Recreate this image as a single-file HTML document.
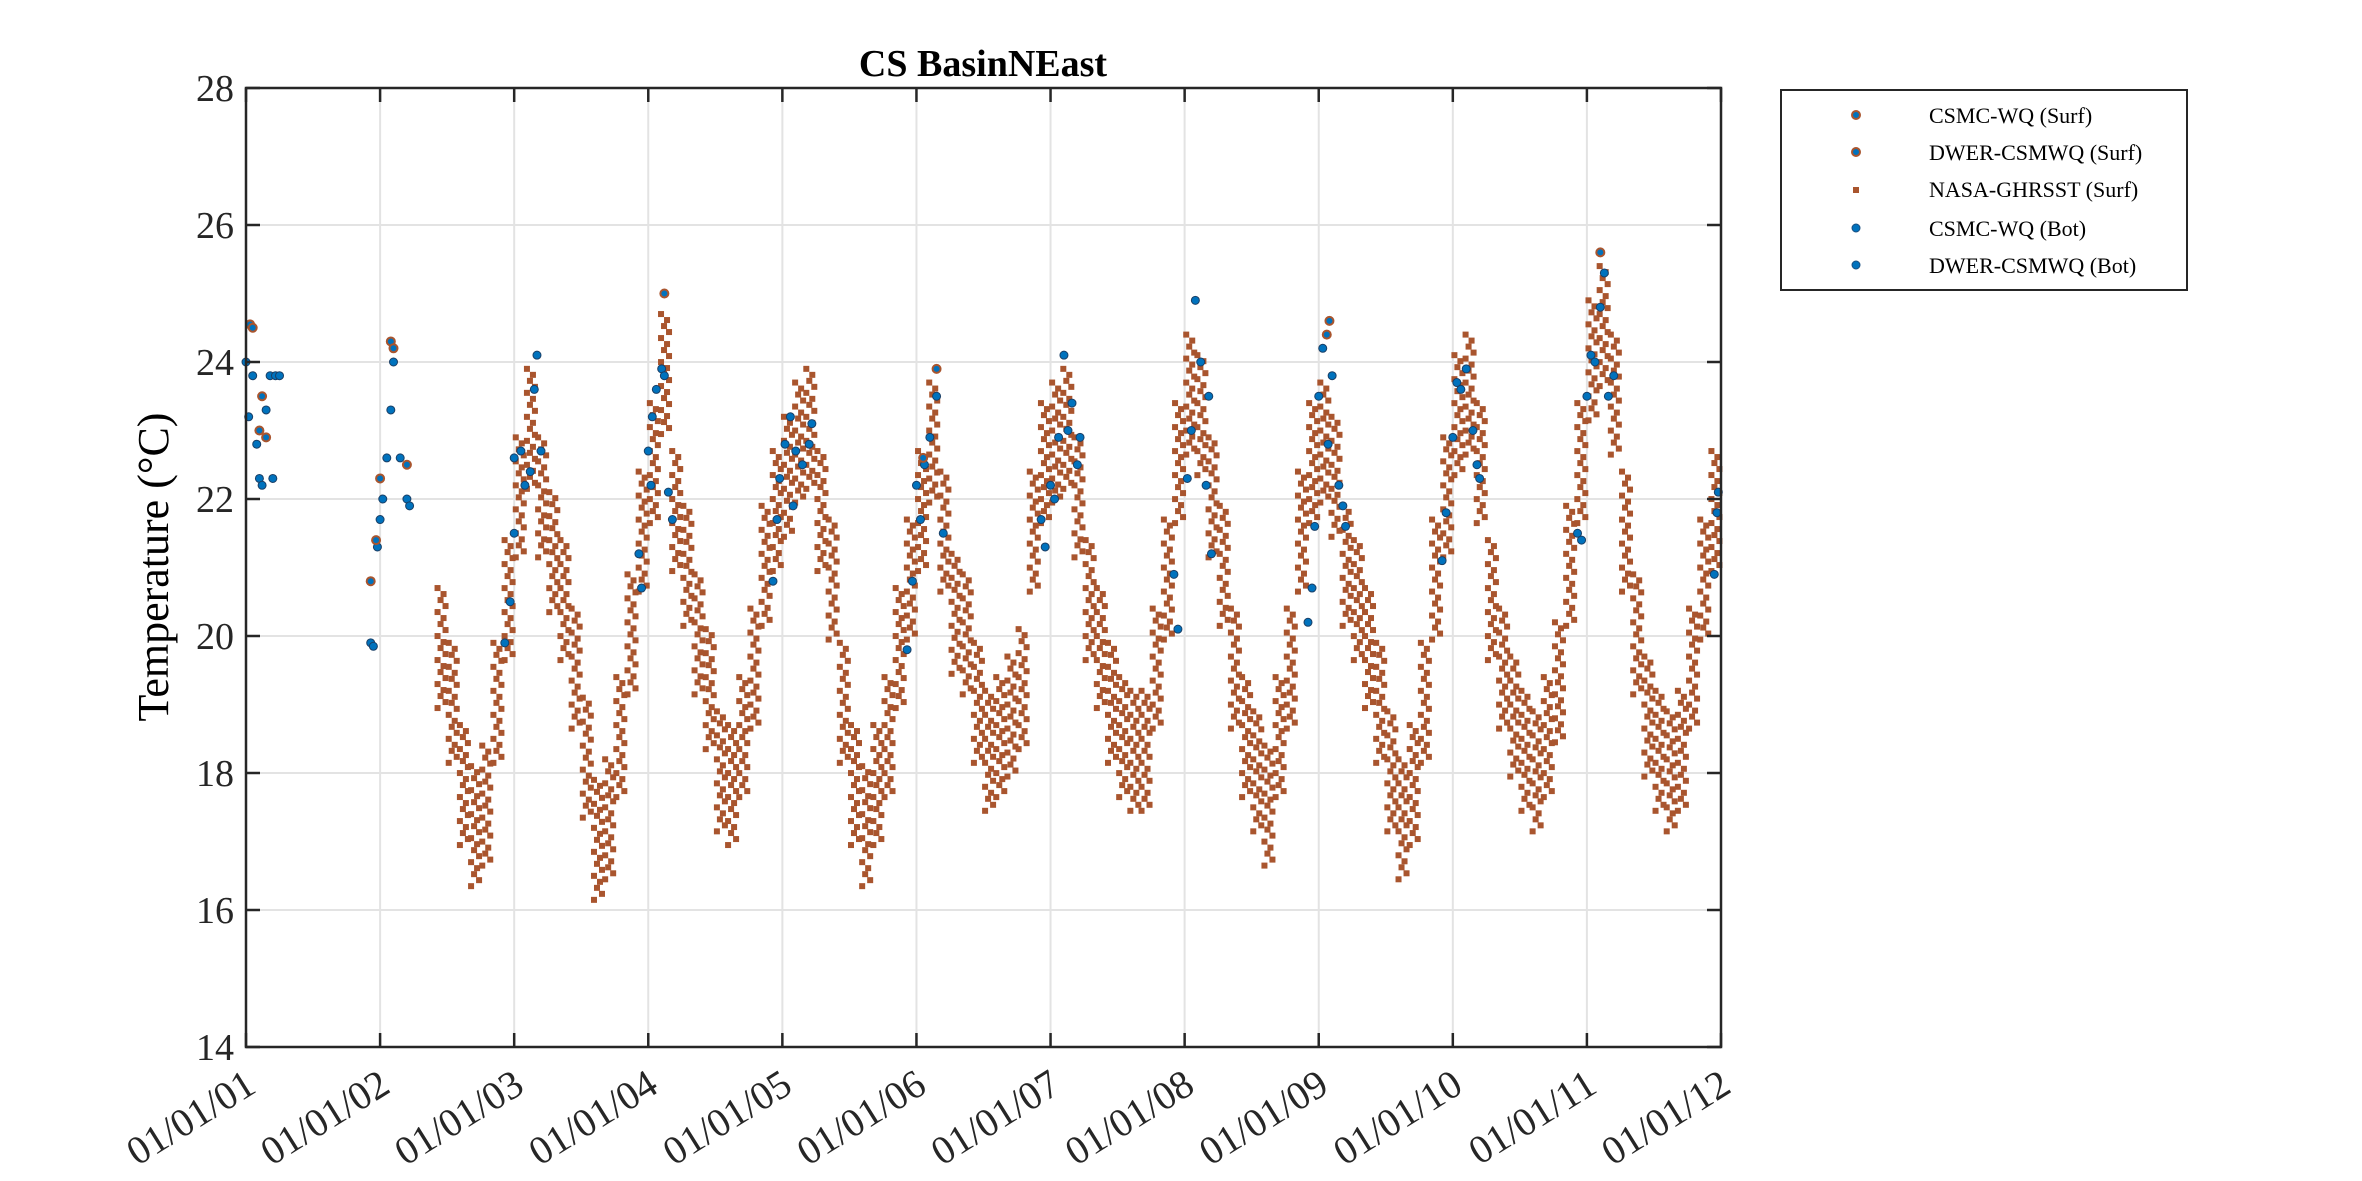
<!DOCTYPE html>
<html><head><meta charset="utf-8"><style>
html,body{margin:0;padding:0;background:#fff;}
svg{display:block;font-family:"Liberation Serif",serif;}
</style></head><body>
<svg id="chart" width="2362" height="1181" viewBox="0 0 2362 1181" xmlns="http://www.w3.org/2000/svg">
<rect width="2362" height="1181" fill="#fff"/>
<g id="grid"></g>
<g id="marks"></g>
<rect x="246" y="88" width="1475" height="959" fill="none" stroke="#262626" stroke-width="2.5"/>
<g id="ticks"></g>
<text x="983" y="76" text-anchor="middle" font-size="38" font-weight="bold" fill="#000">CS BasinNEast</text>
<text transform="translate(168,567) rotate(-90)" text-anchor="middle" font-size="44" fill="#000">Temperature (°C)</text>
<g>
<rect x="1781" y="90" width="406" height="200" fill="#fff" stroke="#262626" stroke-width="2"/>
<circle cx="1856" cy="115" r="4" fill="#0072BD" stroke="#A9552E" stroke-width="2"/>
<text x="1929" y="123" font-size="22">CSMC-WQ (Surf)</text>
<circle cx="1856" cy="152" r="4" fill="#0072BD" stroke="#A9552E" stroke-width="2"/>
<text x="1929" y="160" font-size="22">DWER-CSMWQ (Surf)</text>
<rect x="1853" y="187" width="6" height="6" fill="#A9552E"/>
<text x="1929" y="197" font-size="22">NASA-GHRSST (Surf)</text>
<circle cx="1856" cy="228" r="4" fill="#0072BD" stroke="#1a4f80" stroke-width="1"/>
<text x="1929" y="236" font-size="22">CSMC-WQ (Bot)</text>
<circle cx="1856" cy="265" r="4" fill="#0072BD" stroke="#1a4f80" stroke-width="1"/>
<text x="1929" y="273" font-size="22">DWER-CSMWQ (Bot)</text>
</g>
</svg>
<script>
const yTicks = [14,16,18,20,22,24,26,28];
const xTickYears = [2001,2002,2003,2004,2005,2006,2007,2008,2009,2010,2011,2012];
const xTickLabels = ["01/01/01","01/01/02","01/01/03","01/01/04","01/01/05","01/01/06","01/01/07","01/01/08","01/01/09","01/01/10","01/01/11","01/01/12"];
// NASA monthly centres from Jun 2002
const nasaStart = 2002 + 5/12;
const nasaTemps = [19.8,19.0,17.8,17.2,17.5,19.0,20.5,
22.0,23.0,22.0,21.2,20.5,19.5,18.2,17.0,17.3,18.5,20.0,21.5,
22.5,23.8,21.8,21.0,20.0,19.2,18.0,17.8,18.5,19.5,21.0,21.8,
22.3,22.8,23.0,21.8,20.8,19.0,17.8,17.2,17.8,18.5,19.8,20.8,
21.8,22.8,21.5,20.3,20.0,19.0,18.3,18.5,18.8,19.2,21.5,22.5,
22.8,23.0,22.0,20.5,19.8,19.0,18.5,18.3,18.3,19.5,20.8,22.5,
23.5,23.2,22.0,21.0,19.5,18.5,18.0,17.5,18.5,19.5,21.5,22.5,
22.8,22.3,21.0,20.5,19.8,19.0,18.0,17.3,17.8,19.0,20.8,22.0,
23.2,23.5,22.5,20.5,19.5,18.8,18.3,18.0,18.5,19.3,21.0,22.5,
24.0,24.5,23.5,21.5,20.0,18.8,18.3,18.0,18.3,19.5,20.8,21.8];
const nasaSpread = 0.9;
const botDates = [2001.0,2001.02,2001.05,2001.08,2001.1,2001.12,2001.15,2001.18,2001.2,2001.22,2001.25,
2001.93,2001.95,2001.98,2002.0,2002.02,2002.05,2002.08,2002.1,2002.15,2002.2,2002.22,
2002.93,2002.97,2003.0,2003.0,2003.05,2003.08,2003.12,2003.15,2003.17,2003.2,
2003.93,2003.95,2004.0,2004.03,2004.06,2004.1,2004.12,2004.15,2004.18,2004.02,
2004.93,2004.96,2004.98,2005.02,2005.06,2005.1,2005.15,2005.2,2005.22,2005.08,
2005.93,2005.97,2006.0,2006.03,2006.06,2006.1,2006.15,2006.2,
2006.93,2006.96,2007.0,2007.03,2007.06,2007.1,2007.13,2007.16,2007.2,2007.22,
2007.92,2007.95,2008.02,2008.05,2008.08,2008.12,2008.16,2008.18,2008.2,
2008.92,2008.95,2008.97,2009.0,2009.03,2009.07,2009.1,2009.15,2009.18,2009.2,
2009.92,2009.95,2010.0,2010.03,2010.06,2010.1,2010.15,2010.18,2010.2,
2010.93,2010.96,2011.0,2011.03,2011.06,2011.1,2011.13,2011.16,2011.2,
2011.95,2011.97,2011.98];
const botTemps = [24.0,23.2,23.8,22.8,22.3,22.2,23.3,23.8,22.3,23.8,23.8,
19.9,19.85,21.3,21.7,22.0,22.6,23.3,24.0,22.6,22.0,21.9,
19.9,20.5,21.5,22.6,22.7,22.2,22.4,23.6,24.1,22.7,
21.2,20.7,22.7,23.2,23.6,23.9,23.8,22.1,21.7,22.2,
20.8,21.7,22.3,22.8,23.2,22.7,22.5,22.8,23.1,21.9,
19.8,20.8,22.2,21.7,22.5,22.9,23.5,21.5,
21.7,21.3,22.2,22.0,22.9,24.1,23.0,23.4,22.5,22.9,
20.9,20.1,22.3,23.0,24.9,24.0,22.2,23.5,21.2,
20.2,20.7,21.6,23.5,24.2,22.8,23.8,22.2,21.9,21.6,
21.1,21.8,22.9,23.7,23.6,23.9,23.0,22.5,22.3,
21.5,21.4,23.5,24.1,24.0,24.8,25.3,23.5,23.8,
20.9,21.8,22.1];
const surfDates = [2001.03,2001.05,2001.1,2001.15,2001.12,2001.93,2001.97,2002.0,2002.08,2002.1,2002.2,2004.12,2006.05,2006.15,2009.08,2009.06,2011.1];
const surfTemps = [24.55,24.5,23.0,22.9,23.5,20.8,21.4,22.3,24.3,24.2,22.5,25.0,22.6,23.9,24.6,24.4,25.6];

const NS='http://www.w3.org/2000/svg';
const X0=246,X1=1721,Y0=1047,Y1=88;
function xs(d){return X0+(d-2001)/(2012-2001)*(X1-X0);}
function ys(v){return Y0-(v-14)/(28-14)*(Y0-Y1);}
function mk(tag,parent,attrs){const e=document.createElementNS(NS,tag);for(const k in attrs)e.setAttribute(k,attrs[k]);parent.appendChild(e);return e;}
const grid=document.getElementById('grid'),ticks=document.getElementById('ticks'),marks=document.getElementById('marks');
yTicks.forEach((t,i)=>{
  const y=ys(t);
  if(i>0&&i<yTicks.length-1){const g=mk('line',grid,{x1:X0,x2:X1,y1:y,y2:y,stroke:'#e3e3e3','stroke-width':2});
  
  }
  const a=mk('line',ticks,{x1:X0,x2:X0+14,y1:y,y2:y,stroke:'#262626','stroke-width':2.5});
  
  
  const b=mk('line',ticks,{x1:X1-14,x2:X1,y1:y,y2:y,stroke:'#262626','stroke-width':2.5});
  
  
  const tx=mk('text',ticks,{x:X0-12,y:y+13,'text-anchor':'end','font-size':38,fill:'#262626'});
  tx.textContent=t;
  
  
});
xTickYears.forEach((yr,i)=>{
  const x=xs(yr);
  if(i>0&&i<xTickYears.length-1){const g=mk('line',grid,{x1:x,x2:x,y1:Y1,y2:Y0,stroke:'#e3e3e3','stroke-width':2});
  
  }
  const a=mk('line',ticks,{x1:x,x2:x,y1:Y0,y2:Y0-14,stroke:'#262626','stroke-width':2.5});
  
  
  const b=mk('line',ticks,{x1:x,x2:x,y1:Y1,y2:Y1+14,stroke:'#262626','stroke-width':2.5});
  
  
  const tx=mk('text',ticks,{transform:`translate(${x+12},${Y0+44}) rotate(-32)`,'text-anchor':'end','font-size':40,fill:'#262626'});
  tx.textContent=xTickLabels[i];
  
  
});
// NASA
nasaTemps.forEach((v,i)=>{
  const d=nasaStart+(i+0.5)/12;
  const yTop=ys(v+nasaSpread),yBot=ys(v-nasaSpread);
  let k=0;
  for(let y=yTop;y<=yBot;y+=6){
    const off=[-4,2,-1,4][k%4];k++;
    const r=mk('rect',marks,{x:xs(d)+off-3,y:y-3,width:6,height:6,fill:'#A9552E'});
    
    
  }
});
botDates.forEach((d,i)=>{
  const c=mk('circle',marks,{cx:xs(d),cy:ys(botTemps[i]),r:4,fill:'#0072BD',stroke:'#1a3f66','stroke-width':1});
  
  
});
surfDates.forEach((d,i)=>{
  const c=mk('circle',marks,{cx:xs(d),cy:ys(surfTemps[i]),r:4,fill:'#0072BD',stroke:'#A9552E','stroke-width':2});
  
  
});
</script>
</body></html>
